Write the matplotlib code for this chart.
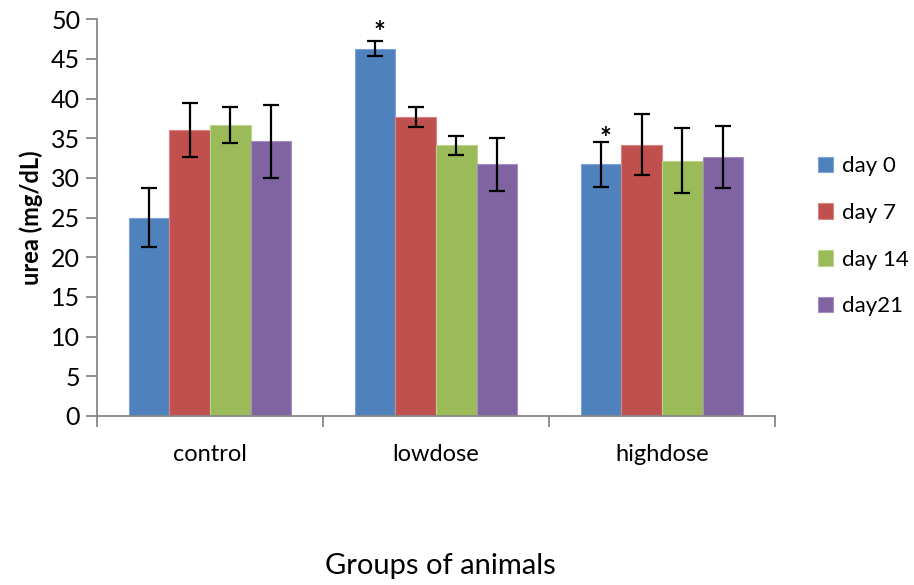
import matplotlib
matplotlib.use("Agg")
import matplotlib.pyplot as plt
import numpy as np

plt.rcParams['font.family'] = ['Lato', 'DejaVu Sans']

groups = ["control", "lowdose", "highdose"]
series = ["day 0", "day 7", "day 14", "day21"]
means = {
    "day 0": [25.0, 46.3, 31.7],
    "day 7": [36.1, 37.7, 34.2],
    "day 14": [36.7, 34.1, 32.2],
    "day21": [34.6, 31.7, 32.6],
}
errs = {
    "day 0": [3.75, 0.95, 2.8],
    "day 7": [3.4, 1.3, 3.8],
    "day 14": [2.3, 1.2, 4.1],
    "day21": [4.6, 3.3, 3.9],
}
colors = ["#4F81BD", "#C0504D", "#9BBB59", "#8064A2"]
edge_colors = ["#7FA3D6", "#D98583", "#BBD38A", "#A58EC2"]
star_positions = [(1, 48.3), (2, 34.9)]  # (group index, y) of significance marks for day 0

fig = plt.figure(figsize=(9.14, 5.85), dpi=100)
ax = fig.add_axes([0.106, 0.289, 0.742, 0.678])

x = np.arange(len(groups))
bw = 0.18
for i, s in enumerate(series):
    pos = x + (i - 1.5) * bw
    ax.bar(pos, means[s], width=bw, color=colors[i], edgecolor=edge_colors[i],
           linewidth=0.8, label=s, zorder=2)
    ax.errorbar(pos, means[s], yerr=errs[s], fmt='none', ecolor='black',
                elinewidth=1.6, capsize=6, capthick=1.6, zorder=3)

for gi, yv in star_positions:
    ax.text(x[gi] - 1.5 * bw + 0.02, yv, "*", ha='center', va='center',
            fontsize=20, fontweight='bold', zorder=4)

ax.set_xlim(-0.5, 2.5)
ax.set_ylim(0, 50)
ax.set_yticks(np.arange(0, 51, 5))
ax.set_xticks(x)
ax.set_xticklabels(groups, fontsize=17)
ax.set_xticks(np.arange(-0.5, 2.6, 1.0), minor=True)
ax.tick_params(axis='x', which='major', length=0, pad=20)
ax.tick_params(axis='x', which='minor', length=8, color='#888888', width=1.3)
ax.tick_params(axis='y', labelsize=18, length=8, color='#888888', width=1.3, pad=4)

for sp in ['top', 'right']:
    ax.spines[sp].set_visible(False)
for sp in ['left', 'bottom']:
    ax.spines[sp].set_color('#888888')
    ax.spines[sp].set_linewidth(1.3)

ax.set_ylabel("urea (mg/dL)", fontsize=17, fontweight='bold', labelpad=6)
fig.text(0.482, 0.032, "Groups of animals", ha='center', va='center', fontsize=21)

leg = ax.legend(loc='center left', bbox_to_anchor=(1.063, 0.453), frameon=False,
                fontsize=16, handlelength=0.7, handleheight=0.7,
                labelspacing=1.2, handletextpad=0.4, borderaxespad=0, borderpad=0)

fig.savefig("out.png", dpi=100)
